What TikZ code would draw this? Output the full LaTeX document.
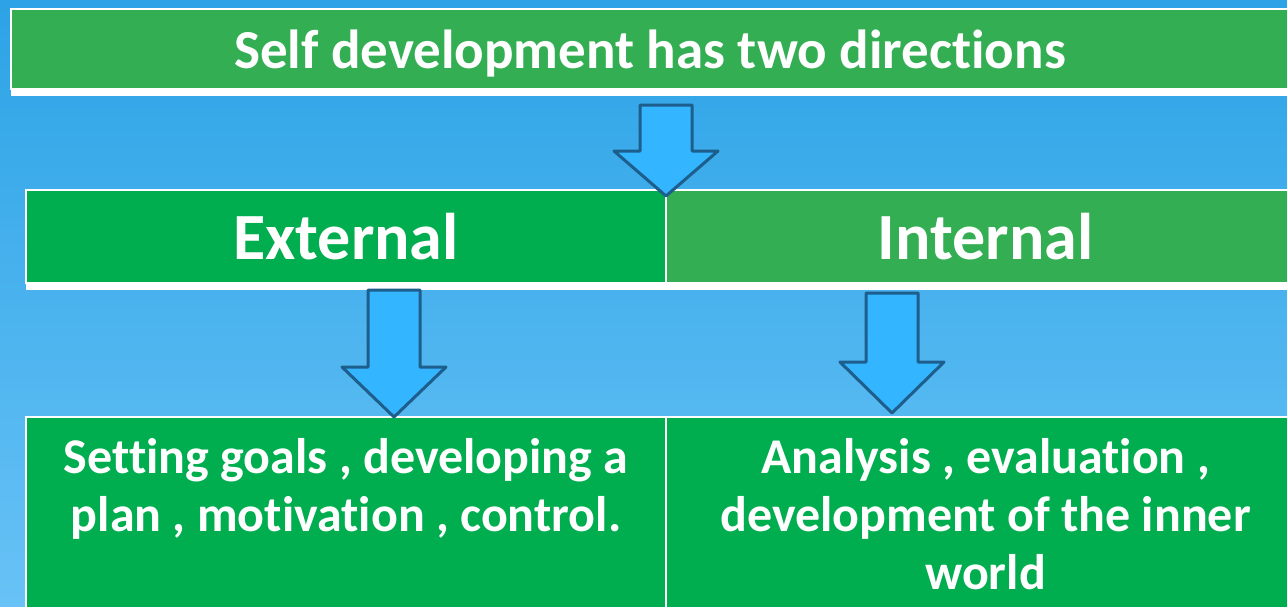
\documentclass[tikz,border=0pt]{standalone}
\usepackage{fontspec}
\setmainfont{Carlito}[Ligatures=NoCommon]
\usetikzlibrary{positioning}
\usetikzlibrary{shadows}

\definecolor{skytop}{RGB}{44,163,230}
\definecolor{skybottom}{RGB}{104,194,246}
\definecolor{leafgreen}{RGB}{52,174,83}
\definecolor{darkgreen}{RGB}{0,174,79}
\definecolor{arrowfill}{RGB}{51,181,255}
\definecolor{arrowline}{RGB}{30,94,140}

% block arrow pointing down: centre x, top, neck, tip
\newcommand{\blockarrow}[4]{%
	\draw[block arrow] (#1-26,#2) -- (#1+26,#2) -- (#1+26,#3) -- (#1+52,#3)
	-- (#1,#4) -- (#1-52,#3) -- (#1-26,#3) -- cycle;}

\begin{document}
\begin{tikzpicture}[x=1pt,y=-1pt,
	box/.style={rectangle,draw=white,line width=2pt,inner sep=0pt,outer sep=0pt,
		text=white,font=\bfseries,
		drop shadow={shadow xshift=0pt,shadow yshift=-7pt,fill=white,opacity=1}},
	detail text/.style={text=white,font=\bfseries\fontsize{50}{58}\selectfont,
		align=center,inner sep=0pt,anchor=north},
	block arrow/.style={draw=arrowline,fill=arrowfill,line width=3pt,line join=round}]
	
	\useasboundingbox (0,0) rectangle (1287,606);
	\clip (0,0) rectangle (1287,606);
	\fill[top color=skytop,bottom color=skybottom] (0,0) rectangle (1287,606);
	
	% boxes
	\node[box,fill=leafgreen,anchor=north west,minimum width=1280pt,minimum height=80pt,
		text depth=0pt,font=\bfseries\fontsize{55}{60}\selectfont] (title) at (11,9)
		{\hspace*{-2pt}Self development has two directions};
	\node[box,fill=darkgreen,anchor=north west,minimum width=640pt,minimum height=93pt,
		font=\bfseries\fontsize{66}{72}\selectfont] (external) at (26,190) {External};
	\node[box,fill=leafgreen,minimum width=639pt,minimum height=93pt,
		font=\bfseries\fontsize{66}{72}\selectfont] (internal) [right=0pt of external] {Internal};
	\node[box,fill=darkgreen,minimum width=640pt,minimum height=195pt] (goals)
		[below=134pt of external] {};
	\node[box,fill=darkgreen,minimum width=639pt,minimum height=195pt] (world)
		[right=0pt of goals] {};
	
	\node[detail text] (goalstext) [below=21pt of goals.north]
		{Setting goals , developing a\\ plan , motivation , control.};
	\node[detail text] (worldtext) [below=21pt of world.north]
		{Analysis , evaluation ,\\ development of the inner\\ world};
	
	% arrows
	\blockarrow{666}{105}{151}{196}
	\blockarrow{394}{290}{367}{417}
	\blockarrow{892}{293}{362}{413}
\end{tikzpicture}
\end{document}
